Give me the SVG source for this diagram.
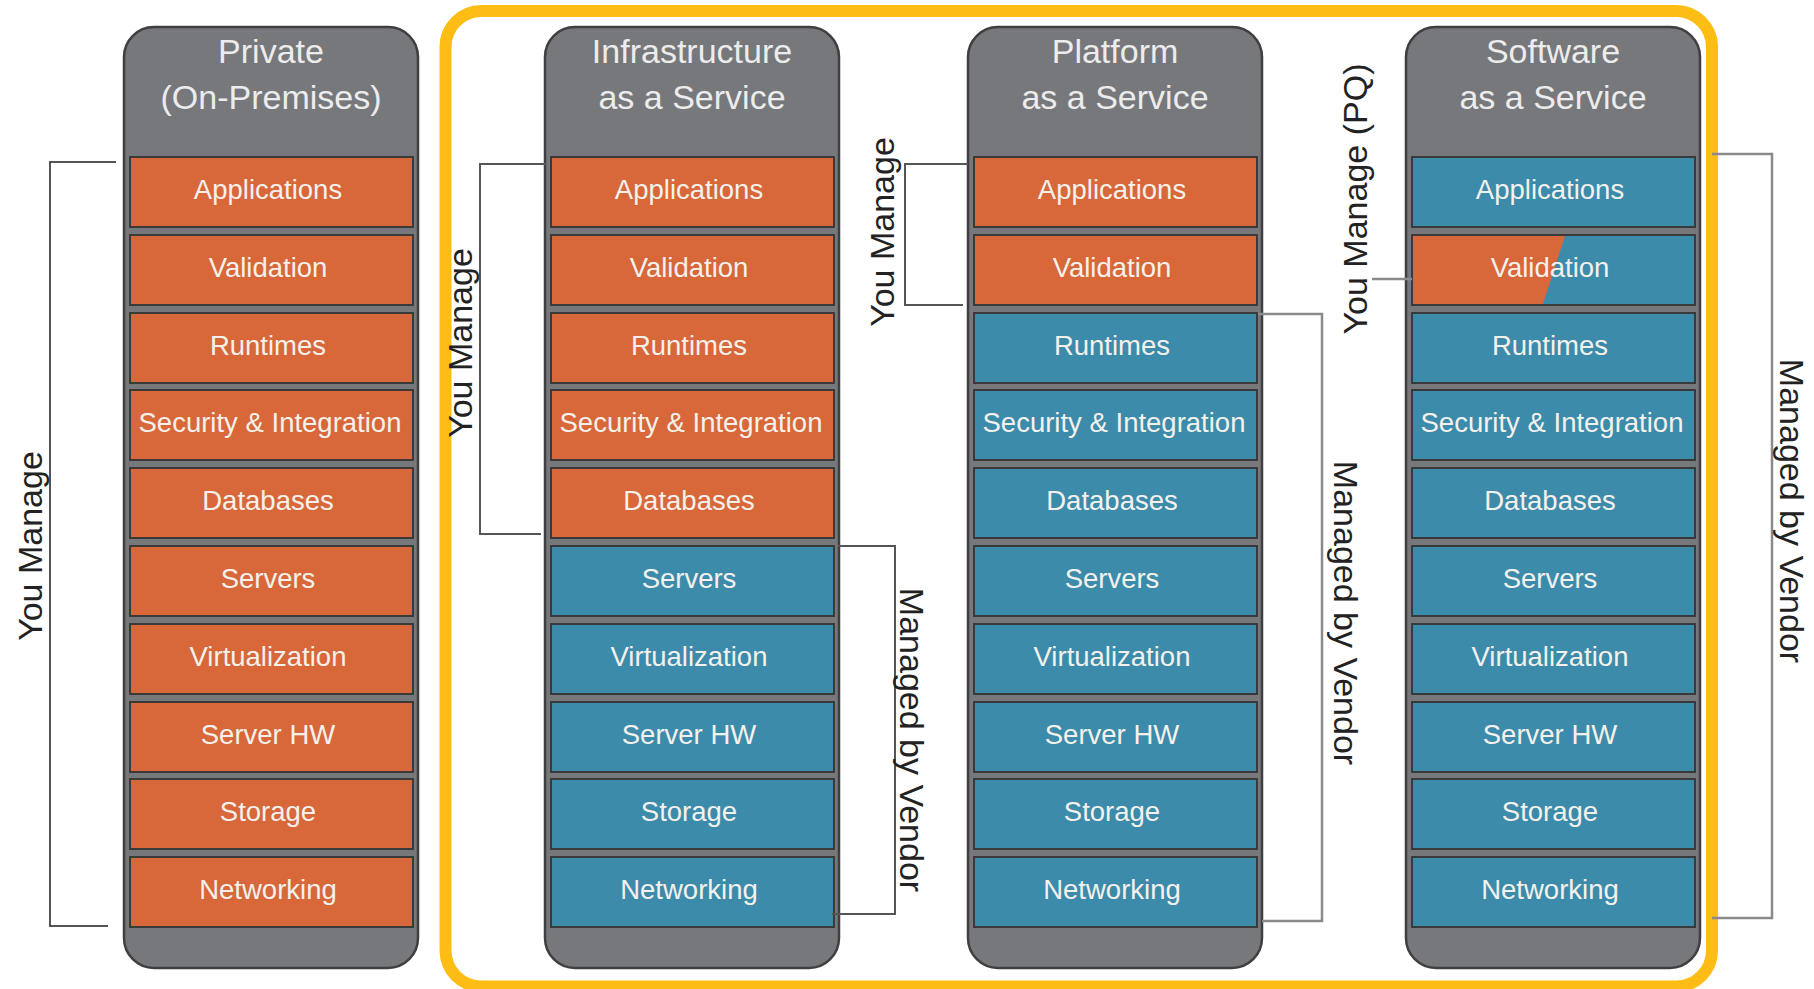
<svg xmlns="http://www.w3.org/2000/svg" width="1814" height="989" viewBox="0 0 1814 989">
<defs>
<style>
.col{fill:#77787b;stroke:#3f3f41;stroke-width:2.5}
.o{fill:#d8673a;stroke:#3a3a3a;stroke-width:2}
.b{fill:#3c8bab;stroke:#3a3a3a;stroke-width:2}
.hd{font-family:"Liberation Sans",Arial,sans-serif;font-size:34px;fill:#ececec;text-anchor:middle}
.rl{font-family:"Liberation Sans",Arial,sans-serif;font-size:27.5px;fill:#f4f1ec;text-anchor:middle}
.lbl{font-family:"Liberation Sans",Arial,sans-serif;font-size:34px;fill:#222;text-anchor:middle}
.br{fill:none;stroke:#555;stroke-width:2}
.brl{fill:none;stroke:#8a8a8a;stroke-width:2.5}
</style>
</defs>
<rect id="cloud-box" x="445.5" y="11" width="1266.5" height="975.5" rx="36" fill="none" stroke="#fdbd14" stroke-width="12"/>

<g id="private">
<rect class="col" x="124" y="27" width="294" height="941" rx="30"/>
<text class="hd" x="271" y="63">Private</text>
<text class="hd" x="271" y="109">(On-Premises)</text>
<g id="private-applications"><rect class="o" x="130" y="157" width="283" height="70"/><text class="rl" x="268" y="199">Applications</text></g>
<g id="private-validation"><rect class="o" x="130" y="235" width="283" height="70"/><text class="rl" x="268" y="277">Validation</text></g>
<g id="private-runtimes"><rect class="o" x="130" y="313" width="283" height="70"/><text class="rl" x="268" y="355">Runtimes</text></g>
<g id="private-security"><rect class="o" x="130" y="390" width="283" height="70"/><text class="rl" x="270" y="432">Security &amp; Integration</text></g>
<g id="private-databases"><rect class="o" x="130" y="468" width="283" height="70"/><text class="rl" x="268" y="510">Databases</text></g>
<g id="private-servers"><rect class="o" x="130" y="546" width="283" height="70"/><text class="rl" x="268" y="588">Servers</text></g>
<g id="private-virtualization"><rect class="o" x="130" y="624" width="283" height="70"/><text class="rl" x="268" y="666">Virtualization</text></g>
<g id="private-serverhw"><rect class="o" x="130" y="702" width="283" height="70"/><text class="rl" x="268" y="744">Server HW</text></g>
<g id="private-storage"><rect class="o" x="130" y="779" width="283" height="70"/><text class="rl" x="268" y="821">Storage</text></g>
<g id="private-networking"><rect class="o" x="130" y="857" width="283" height="70"/><text class="rl" x="268" y="899">Networking</text></g>
</g>

<g id="iaas">
<rect class="col" x="545" y="27" width="294" height="941" rx="30"/>
<text class="hd" x="692" y="63">Infrastructure</text>
<text class="hd" x="692" y="109">as a Service</text>
<g id="iaas-applications"><rect class="o" x="551" y="157" width="283" height="70"/><text class="rl" x="689" y="199">Applications</text></g>
<g id="iaas-validation"><rect class="o" x="551" y="235" width="283" height="70"/><text class="rl" x="689" y="277">Validation</text></g>
<g id="iaas-runtimes"><rect class="o" x="551" y="313" width="283" height="70"/><text class="rl" x="689" y="355">Runtimes</text></g>
<g id="iaas-security"><rect class="o" x="551" y="390" width="283" height="70"/><text class="rl" x="691" y="432">Security &amp; Integration</text></g>
<g id="iaas-databases"><rect class="o" x="551" y="468" width="283" height="70"/><text class="rl" x="689" y="510">Databases</text></g>
<g id="iaas-servers"><rect class="b" x="551" y="546" width="283" height="70"/><text class="rl" x="689" y="588">Servers</text></g>
<g id="iaas-virtualization"><rect class="b" x="551" y="624" width="283" height="70"/><text class="rl" x="689" y="666">Virtualization</text></g>
<g id="iaas-serverhw"><rect class="b" x="551" y="702" width="283" height="70"/><text class="rl" x="689" y="744">Server HW</text></g>
<g id="iaas-storage"><rect class="b" x="551" y="779" width="283" height="70"/><text class="rl" x="689" y="821">Storage</text></g>
<g id="iaas-networking"><rect class="b" x="551" y="857" width="283" height="70"/><text class="rl" x="689" y="899">Networking</text></g>
</g>

<g id="paas">
<rect class="col" x="968" y="27" width="294" height="941" rx="30"/>
<text class="hd" x="1115" y="63">Platform</text>
<text class="hd" x="1115" y="109">as a Service</text>
<g id="paas-applications"><rect class="o" x="974" y="157" width="283" height="70"/><text class="rl" x="1112" y="199">Applications</text></g>
<g id="paas-validation"><rect class="o" x="974" y="235" width="283" height="70"/><text class="rl" x="1112" y="277">Validation</text></g>
<g id="paas-runtimes"><rect class="b" x="974" y="313" width="283" height="70"/><text class="rl" x="1112" y="355">Runtimes</text></g>
<g id="paas-security"><rect class="b" x="974" y="390" width="283" height="70"/><text class="rl" x="1114" y="432">Security &amp; Integration</text></g>
<g id="paas-databases"><rect class="b" x="974" y="468" width="283" height="70"/><text class="rl" x="1112" y="510">Databases</text></g>
<g id="paas-servers"><rect class="b" x="974" y="546" width="283" height="70"/><text class="rl" x="1112" y="588">Servers</text></g>
<g id="paas-virtualization"><rect class="b" x="974" y="624" width="283" height="70"/><text class="rl" x="1112" y="666">Virtualization</text></g>
<g id="paas-serverhw"><rect class="b" x="974" y="702" width="283" height="70"/><text class="rl" x="1112" y="744">Server HW</text></g>
<g id="paas-storage"><rect class="b" x="974" y="779" width="283" height="70"/><text class="rl" x="1112" y="821">Storage</text></g>
<g id="paas-networking"><rect class="b" x="974" y="857" width="283" height="70"/><text class="rl" x="1112" y="899">Networking</text></g>
</g>

<g id="saas">
<rect class="col" x="1406" y="27" width="294" height="941" rx="30"/>
<text class="hd" x="1553" y="63">Software</text>
<text class="hd" x="1553" y="109">as a Service</text>
<g id="saas-applications"><rect class="b" x="1412" y="157" width="283" height="70"/><text class="rl" x="1550" y="199">Applications</text></g>
<g id="saas-validation"><rect class="b" x="1412" y="235" width="283" height="70"/><polygon points="1413,236 1565,236 1543,304 1413,304" fill="#d8673a"/><text class="rl" x="1550" y="277">Validation</text></g>
<g id="saas-runtimes"><rect class="b" x="1412" y="313" width="283" height="70"/><text class="rl" x="1550" y="355">Runtimes</text></g>
<g id="saas-security"><rect class="b" x="1412" y="390" width="283" height="70"/><text class="rl" x="1552" y="432">Security &amp; Integration</text></g>
<g id="saas-databases"><rect class="b" x="1412" y="468" width="283" height="70"/><text class="rl" x="1550" y="510">Databases</text></g>
<g id="saas-servers"><rect class="b" x="1412" y="546" width="283" height="70"/><text class="rl" x="1550" y="588">Servers</text></g>
<g id="saas-virtualization"><rect class="b" x="1412" y="624" width="283" height="70"/><text class="rl" x="1550" y="666">Virtualization</text></g>
<g id="saas-serverhw"><rect class="b" x="1412" y="702" width="283" height="70"/><text class="rl" x="1550" y="744">Server HW</text></g>
<g id="saas-storage"><rect class="b" x="1412" y="779" width="283" height="70"/><text class="rl" x="1550" y="821">Storage</text></g>
<g id="saas-networking"><rect class="b" x="1412" y="857" width="283" height="70"/><text class="rl" x="1550" y="899">Networking</text></g>
</g>

<g id="connectors">
<polyline class="br" points="116,162 50,162 50,926 108,926"/>
<polyline class="br" points="546,164 480,164 480,534 541,534"/>
<polyline class="br" points="838,546 895,546 895,914 832,914"/>
<polyline class="br" points="968,164 905,164 905,305 963,305"/>
<polyline class="brl" points="1258,314 1322,314 1322,921 1262,921"/>
<line class="brl" x1="1372" y1="279" x2="1412" y2="279"/>
<polyline class="brl" points="1712,154 1772,154 1772,918 1712,918"/>
</g>

<g id="labels">
<text class="lbl" transform="translate(42,546) rotate(-90)">You Manage</text>
<text class="lbl" transform="translate(472,343) rotate(-90)">You Manage</text>
<text class="lbl" transform="translate(900,740) rotate(90)">Managed by Vendor</text>
<text class="lbl" transform="translate(894,232) rotate(-90)">You Manage</text>
<text class="lbl" transform="translate(1334,613) rotate(90)">Managed by Vendor</text>
<text class="lbl" transform="translate(1367,199) rotate(-90)">You Manage (PQ)</text>
<text class="lbl" transform="translate(1780,511) rotate(90)">Managed by Vendor</text>
</g>
</svg>
